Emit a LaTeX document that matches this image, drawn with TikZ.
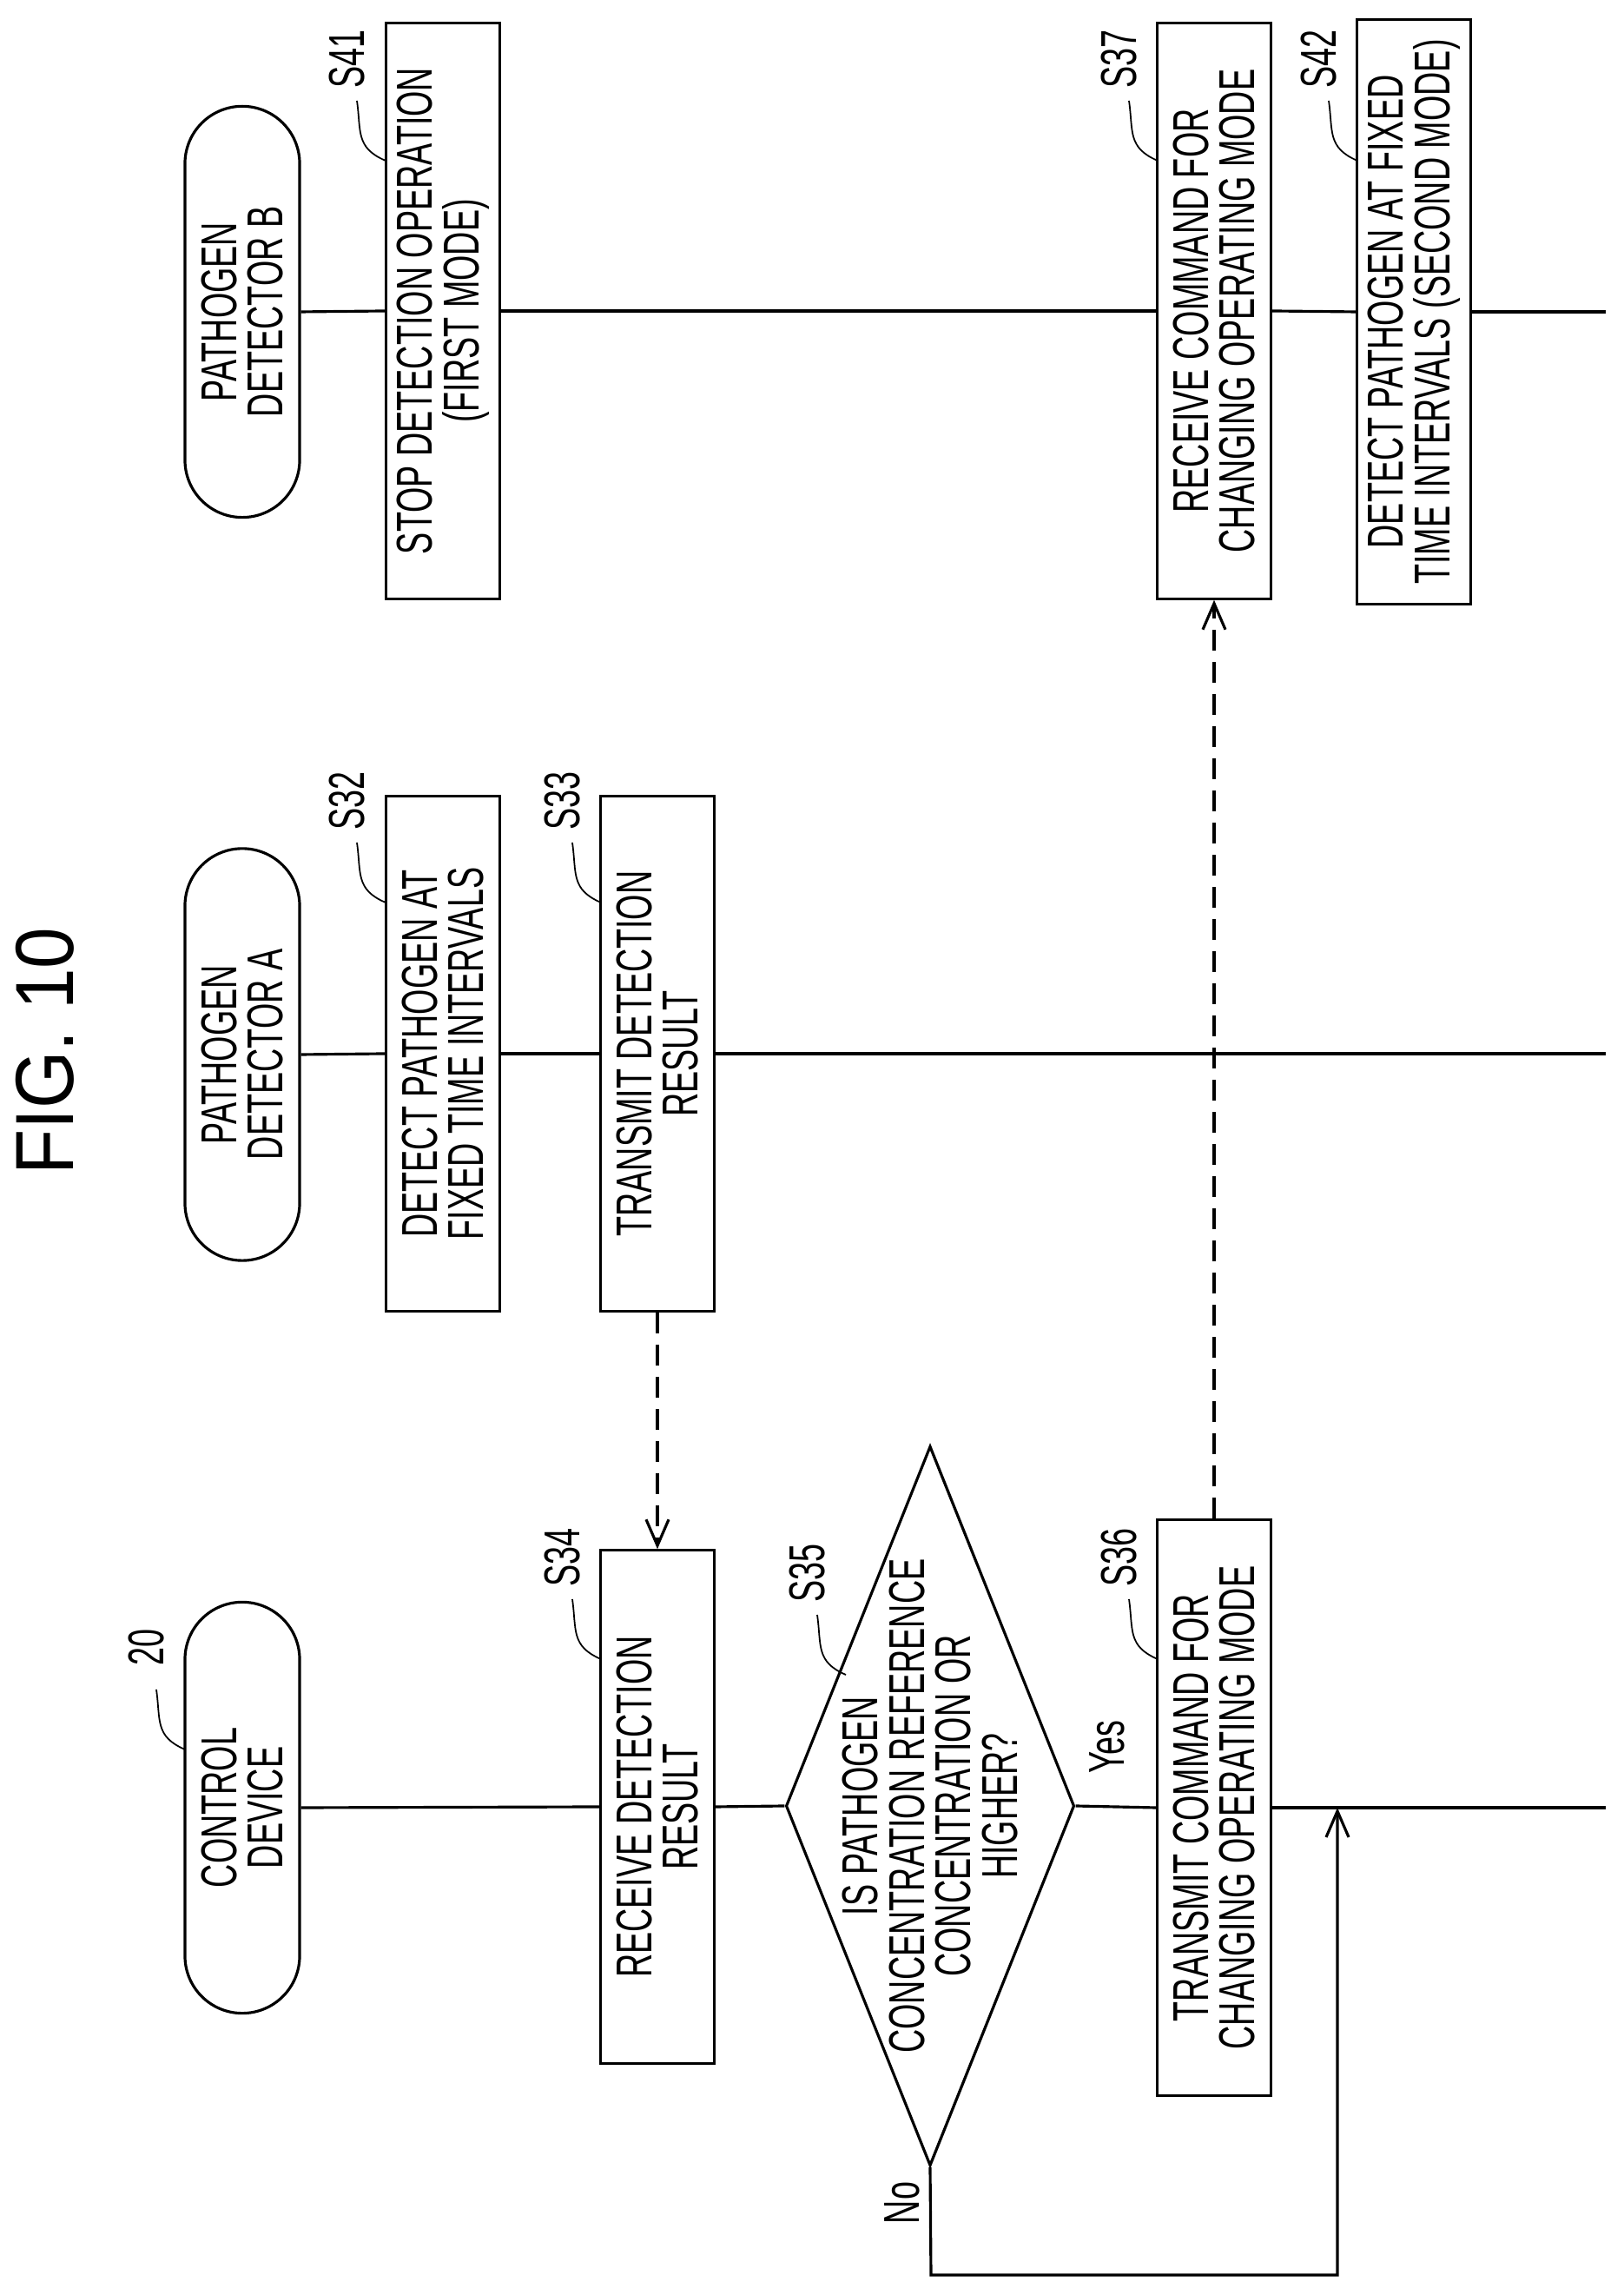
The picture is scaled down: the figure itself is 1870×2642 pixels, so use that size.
\documentclass[tikz,border=0pt]{standalone}
\usepackage{fontspec}
\setmainfont{Liberation Sans}[FakeStretch=0.65]
\newfontfamily\titlefont{Liberation Sans}[FakeStretch=0.9]
\usetikzlibrary{shapes.geometric,arrows.meta,calc}
\begin{document}
\begin{tikzpicture}[x=0.01cm,y=0.01cm,
  every node/.style={font=\fontsize{16.5}{15.3}\selectfont, align=center},
  term/.style={draw, line width=0.9pt, rotate=90, rounded corners=0.66cm, minimum height=1.32cm, inner sep=0pt},
  box/.style={draw, line width=0.9pt, rotate=90, minimum height=1.31cm, inner sep=0pt},
  lbl/.style={rotate=90, inner sep=0pt},
  lane/.style={line width=0.9pt},
  dsh/.style={line width=0.9pt, dash pattern=on 0.24cm off 0.13cm, -{Straight Barb[length=0.3cm,width=0.26cm]}},
  arr/.style={line width=0.9pt, -{Straight Barb[length=0.3cm,width=0.26cm]}},
  lead/.style={line width=0.5pt}]
\useasboundingbox (0,0) rectangle (1870,2642);
\node[lbl, font=\titlefont\fontsize{27}{30}\selectfont] (title) at (52,1432) {FIG. 10};
% terminators
\node[term, minimum width=4.73cm] (TB) at (279,2283) {PATHOGEN\\DETECTOR B};
\node[term, minimum width=4.74cm] (TA) at (279,1428) {PATHOGEN\\DETECTOR A};
\node[term, minimum width=4.73cm] (TC) at (279,561) {CONTROL\\DEVICE};
% boxes
\node[box, minimum width=6.62cm] (S41) at (510,2284) {STOP DETECTION OPERATION\\(FIRST MODE)};
\node[box, minimum width=5.92cm] (S32) at (510,1429) {DETECT PATHOGEN AT\\FIXED TIME INTERVALS};
\node[box, minimum width=5.92cm] (S33) at (757,1429) {TRANSMIT DETECTION\\RESULT};
\node[box, minimum width=5.90cm] (S34) at (757,562) {RECEIVE DETECTION\\RESULT};
\node[draw, line width=0.9pt, diamond, aspect=0.4, minimum width=3.32cm, minimum height=8.28cm, inner sep=0pt] (S35) at (1071,563) {};
\node[lbl] (S35t) at (1071,563) {IS PATHOGEN\\CONCENTRATION REFERENCE\\CONCENTRATION OR\\HIGHER?};
\node[box, minimum width=6.62cm] (S36) at (1398,561) {TRANSMIT COMMAND FOR\\CHANGING OPERATING MODE};
\node[box, minimum width=6.62cm] (S37) at (1398,2284) {RECEIVE COMMAND FOR\\CHANGING OPERATING MODE};
\node[box, minimum width=6.73cm] (S42) at (1628,2283) {DETECT PATHOGEN AT FIXED\\TIME INTERVALS (SECOND MODE)};
% end points
\coordinate (eB) at (1849,2283);
\coordinate (eA) at (1849,1429);
\coordinate (eC) at (1849,561);
% lanes
\draw[lane] (TB.south) -- (S41.north);
\draw[lane] (S41.south) -- (S37.north);
\draw[lane] (S37.south) -- (S42.north);
\draw[lane] (S42.south) -- (eB);
\draw[lane] (TA.south) -- (S32.north);
\draw[lane] (S32.south) -- (S33.north);
\draw[lane] (S33.south) -- (eA);
\draw[lane] (TC.south) -- (S34.north);
\draw[lane] (S34.south) -- (S35.west);
\draw[lane] (S35.east) -- (S36.north);
\draw[lane] (S36.south) -- (eC);
% messages
\draw[dsh] (S33.west) -- (S34.east);
\draw[dsh] (S36.east) -- (S37.west);
% No loop
\coordinate (n1) at (1072,23);
\coordinate (n2) at (1540,23);
\coordinate (n3) at (1540,561);
\draw[arr] (S35.south) -- (n1) -- (n2) -- (n3);
\node[lbl] (yes) at (1275,631) {Yes};
\node[lbl] (no) at (1039,106) {No};
% step labels with leaders
\foreach \n/\px/\py/\t in {a/444/2457/S41, b/444/1603/S32, c/692/1603/S33, d/692/732/S34, e/974/714/S35, f/1333/732/S36, g/1333/2457/S37, h/1563/2457/S42, i/213/628/20}{
  \coordinate (p\n) at (\px,\py);
  \draw[lead] (p\n) .. controls +(-35,15) and +(5,-35) .. +(-33,69);
  \node[lbl] (l\n) at ($(p\n)+(-44,117)$) {\t};
}
\end{tikzpicture}
\end{document}
